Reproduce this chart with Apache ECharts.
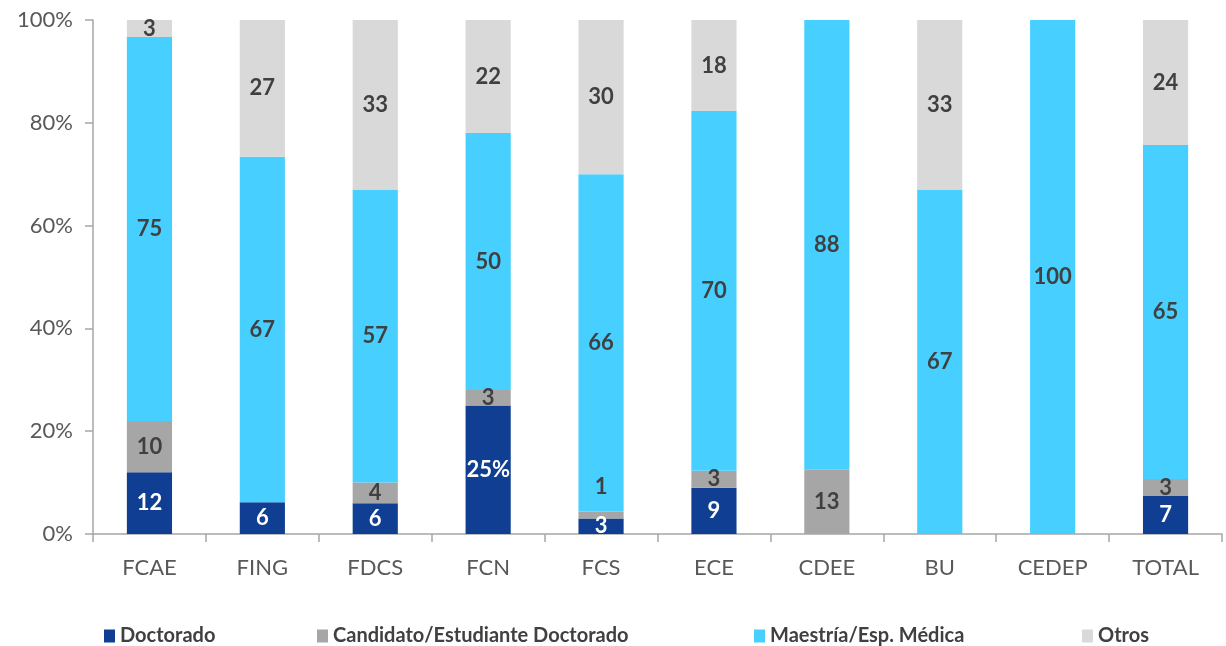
<!DOCTYPE html>
<html>
<head>
<meta charset="utf-8">
<script src="https://cdn.jsdelivr.net/npm/echarts@6/dist/echarts.min.js"></script>
<style>
  html, body { margin: 0; padding: 0; background: #fff; }
  #main { width: 1226px; height: 646px; }
</style>
</head>
<body>
<div id="main"></div>
<script>
var categories = ['FCAE', 'FING', 'FDCS', 'FCN', 'FCS', 'ECE', 'CDEE', 'BU', 'CEDEP', 'TOTAL'];
var doctorado  = [12, 6.2, 6, 25, 3, 9, 0, 0, 0, 7.4];
var candidato  = [10, 0, 4, 3, 1.4, 3.3, 12.5, 0, 0, 3.3];
var maestria   = [74.7, 67.2, 57, 50, 65.6, 70, 87.5, 67, 100, 65];
var otros      = [3.3, 26.6, 33, 22, 30, 17.7, 0, 33, 0, 24.3];
var yTicks     = [0, 20, 40, 60, 80, 100];

var font = 'Lato';
var colors = ['#0F3E92', '#A6A6A6', '#47CFFF', '#D9D9D9'];

function fmt(p) {
  if (!p.value) return '';
  if (p.seriesName === 'Doctorado' && p.name === 'FCN') return p.value + '%';
  return Math.round(p.value);
}

function makeSeries(name, vals, color, labelColor) {
  return {
    name: name,
    type: 'bar',
    stack: 'total',
    barWidth: '40%',
    itemStyle: { color: color },
    label: {
      show: true,
      position: 'inside',
      formatter: fmt,
      color: labelColor,
      fontFamily: font,
      fontWeight: 'bold',
      fontSize: 22
    },
    data: vals.map(function (v, i) {
      // FCS candidate label sits above its thin segment in the original
      if (name === 'Candidato/Estudiante Doctorado' && categories[i] === 'FCS') {
        return { value: v, label: { offset: [0, -28] } };
      }
      return v;
    })
  };
}

var legendNames = ['Doctorado', 'Candidato/Estudiante Doctorado', 'Maestría/Esp. Médica', 'Otros'];
var legendLeft = [99, 312, 749, 1077];

var chart = echarts.init(document.getElementById('main'));
chart.setOption({
  animation: false,
  grid: { left: 93, right: 4, top: 20, bottom: 112, containLabel: false },
  legend: legendNames.map(function (n, i) {
    return {
      data: [n],
      left: legendLeft[i],
      top: 621,
      itemWidth: 11,
      itemHeight: 13,
      icon: 'rect',
      itemGap: 6,
      textStyle: { fontFamily: font, fontWeight: 'bold', fontSize: 20, color: '#404040' }
    };
  }),
  xAxis: {
    type: 'category',
    data: categories,
    axisLine: { lineStyle: { color: '#A6A6A6', width: 1.5 } },
    axisTick: { show: true, length: 8, lineStyle: { color: '#A6A6A6', width: 1.5 } },
    axisLabel: { fontFamily: font, fontSize: 22, color: '#595959', margin: 23 }
  },
  yAxis: {
    type: 'value',
    min: yTicks[0],
    max: yTicks[yTicks.length - 1],
    interval: 20,
    axisLine: { show: true, lineStyle: { color: '#A6A6A6', width: 1.5 } },
    axisTick: { show: true, length: 8, lineStyle: { color: '#A6A6A6', width: 1.5 } },
    splitLine: { show: false },
    axisLabel: { formatter: '{value}%', fontFamily: font, fontSize: 22, color: '#595959', margin: 20 }
  },
  series: [
    makeSeries('Doctorado', doctorado, colors[0], '#FFFFFF'),
    makeSeries('Candidato/Estudiante Doctorado', candidato, colors[1], '#404040'),
    makeSeries('Maestría/Esp. Médica', maestria, colors[2], '#404040'),
    makeSeries('Otros', otros, colors[3], '#404040')
  ]
});
</script>
</body>
</html>
